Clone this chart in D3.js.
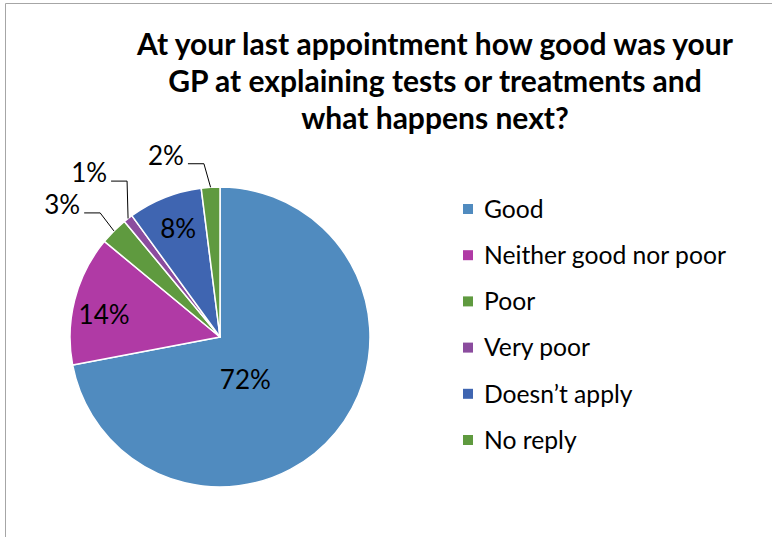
<!DOCTYPE html>
<html><head><meta charset="utf-8">
<script src="https://cdn.jsdelivr.net/npm/d3@7"></script>
<style>html,body{margin:0;padding:0;background:#fff;} svg{display:block;}</style>
</head><body>
<svg id="chart" width="772" height="537"></svg>
<script>
const titleLines = ["At your last appointment how good was your", "GP at explaining tests or treatments and", "what happens next?"];
const categories = ["Good", "Neither good nor poor", "Poor", "Very poor", "Doesn\u2019t apply", "No reply"];
const values = [72, 14, 3, 1, 8, 2];
const labels = ["72%", "14%", "3%", "1%", "8%", "2%"];
const colors = ["#508BBF", "#B03AA5", "#5F9A3F", "#8B4C9E", "#3F65B1", "#5F9A3F"];

const svg = d3.select("#chart");
const W = 772, H = 537;
const FONT = "Lato, 'Open Sans', sans-serif";

// frame
svg.append("path").attr("d", `M5.5,${H} V3.5 H${W}`).attr("fill","none").attr("stroke","#A6A6A6").attr("stroke-width",1);

function fit(sel, target) {
  const w = sel.node().getComputedTextLength();
  const fs = parseFloat(sel.attr("font-size"));
  return fs * target / w;
}

// title
const title = svg.append("g");
const tl = title.selectAll("text").data(titleLines).join("text")
  .attr("x", 435).attr("y", (d,i)=>55 + i*37)
  .attr("text-anchor","middle").attr("font-family",FONT).attr("font-weight","bold")
  .attr("font-size",30).attr("fill","#000").text(d=>d);
const tfs = fit(d3.select(tl.nodes()[0]), 596);
tl.attr("font-size", tfs);

// pie
const cx = 220, cy = 337, R = 150;
const pie = d3.pie().sort(null).value(d=>d).startAngle(0).endAngle(2*Math.PI);
const arcs = pie(values);
const arc = d3.arc().innerRadius(0).outerRadius(R);
const g = svg.append("g").attr("transform",`translate(${cx},${cy})`);
g.selectAll("path").data(arcs).join("path")
  .attr("d", arc).attr("fill",(d,i)=>colors[i])
  .attr("stroke","#fff").attr("stroke-width",1.5).attr("stroke-linejoin","round");

const polar = (a, r) => [Math.sin(a)*r, -Math.cos(a)*r];
const deg = Math.PI/180;
// label layout: inside labels vs. outside with leader lines
const inside = new Set([0,1,4]);
const insideR = {0: 50, 1: 118, 4: 116};
const insideAdj = {0: 20*deg, 1: -3.7*deg, 4: 0.5*deg};
const outsideAdj = {2: 1*deg, 3: 7*deg, 5: -1.7*deg};
const outsideK = {2: 1.15, 3: 1.21, 5: 1.16};

const lab = g.append("g").attr("font-family",FONT).attr("fill","#000").attr("font-size",26);
arcs.forEach((d,i)=>{
  const mid = (d.startAngle + d.endAngle)/2;
  if (inside.has(i)) {
    const [x,y] = polar(mid + insideAdj[i], insideR[i]);
    lab.append("text").attr("class","lbl").attr("x",x).attr("y",y).attr("dy","0.36em")
      .attr("text-anchor","middle").text(labels[i]);
  } else {
    const [ex,ey] = polar(mid, R);
    const [bx,by] = polar(mid + outsideAdj[i], R*outsideK[i]);
    const hx = bx - 16;
    g.append("path").attr("d",`M${ex},${ey} L${bx},${by} L${hx},${by}`)
      .attr("fill","none").attr("stroke","#000").attr("stroke-width",1);
    lab.append("text").attr("class","lbl").attr("x",hx-4).attr("y",by+1)
      .attr("text-anchor","end").text(labels[i]);
  }
});
const lfs = fit(lab.select("text"), 46);
lab.selectAll("text").attr("font-size", lfs);

// legend
const leg = svg.append("g");
const rowY = d3.scalePoint().domain(categories).range([209, 440]);
const items = leg.selectAll("g").data(categories).join("g")
  .attr("transform", d=>`translate(463,${rowY(d)})`);
items.append("rect").attr("x",0).attr("y",-5).attr("width",10).attr("height",10)
  .attr("fill",(d,i)=>colors[i]);
const lt = items.append("text").attr("x",21).attr("dy","0.36em")
  .attr("font-family",FONT).attr("font-size",24).attr("fill","#000").text(d=>d);
const gfs = fit(d3.select(lt.nodes()[1]), 242);
lt.attr("font-size", gfs);
</script>
</body></html>
